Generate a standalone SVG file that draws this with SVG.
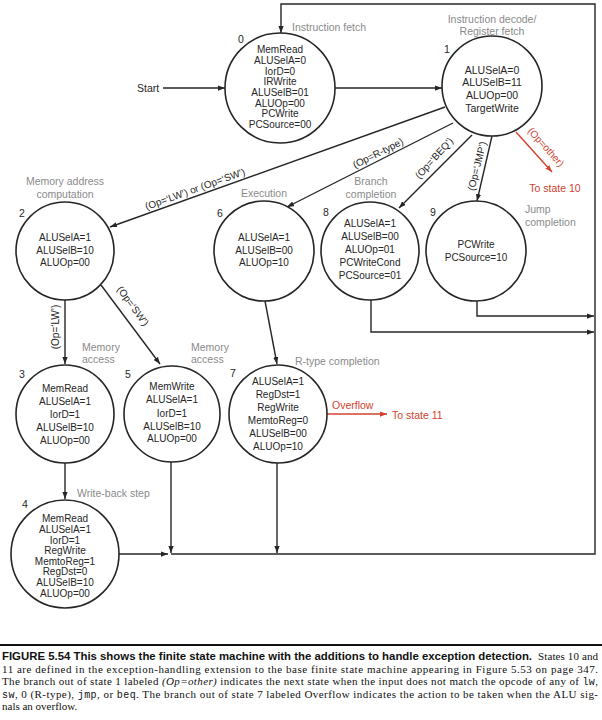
<svg xmlns="http://www.w3.org/2000/svg" width="602" height="720" viewBox="0 0 602 720">
<defs>
<marker id="ah" viewBox="0 0 8 6" refX="8" refY="3" markerWidth="7" markerHeight="5.5" orient="auto" markerUnits="userSpaceOnUse"><path d="M0,0 L8,3 L0,6 z" fill="#262626"/></marker>
<marker id="ahr" viewBox="0 0 8 6" refX="8" refY="3" markerWidth="7" markerHeight="5.5" orient="auto" markerUnits="userSpaceOnUse"><path d="M0,0 L8,3 L0,6 z" fill="#d2422f"/></marker>
</defs>
<style>
.st{fill:#fff;stroke:#262626;stroke-width:1.6}
.t{font-family:"Liberation Sans",Arial,sans-serif;font-size:10px;fill:#262626;text-anchor:middle}
.t1{font-size:10.5px}
.n{font-family:"Liberation Sans",Arial,sans-serif;font-size:10.5px;fill:#262626;text-anchor:middle}
.g{font-family:"Liberation Sans",Arial,sans-serif;font-size:10.5px;fill:#8a8a8a}
.gm{text-anchor:middle}
.lb{font-family:"Liberation Sans",Arial,sans-serif;font-size:10px;fill:#262626;text-anchor:middle}
.red{font-family:"Liberation Sans",Arial,sans-serif;font-size:10.5px;fill:#d2422f}
.c{fill:none;stroke:#262626;stroke-width:1.4}
.cr{fill:none;stroke:#d2422f;stroke-width:1.4}
.cap{font-family:"Liberation Serif","Times New Roman",serif;font-size:11px;fill:#111}
.capb{font-family:"Liberation Sans",Arial,sans-serif;font-size:10px;font-weight:bold;fill:#111}
.mono{font-family:"Liberation Mono","Courier New",monospace;font-size:10px}
</style>

<g id="connectors">
<path class="c" d="M163 88 H225" marker-end="url(#ah)"/>
<path class="c" d="M335 88 H442" marker-end="url(#ah)"/>
<path class="c" d="M171 554 H595 V4 H281 V33" marker-end="url(#ah)"/>
<path class="c" d="M119 554 H168" marker-end="url(#ah)"/>
<path class="c" d="M171 462 V553" marker-end="url(#ah)"/>
<path class="c" d="M277 463 V553" marker-end="url(#ah)"/>
<path class="c" d="M445 107 L110 227" marker-end="url(#ah)"/>
<path class="c" d="M453 123 L287 207" marker-end="url(#ah)"/>
<path class="c" d="M472 135 L399 208" marker-end="url(#ah)"/>
<path class="c" d="M492 136 L477 201" marker-end="url(#ah)"/>
<path class="cr" d="M516 132 L552 172" marker-end="url(#ahr)"/>
<path class="c" d="M65 300 V364" marker-end="url(#ah)"/>
<path class="c" d="M101 285 L160 364" marker-end="url(#ah)"/>
<path class="c" d="M265 301 L277 364" marker-end="url(#ah)"/>
<path class="c" d="M65 463 V499" marker-end="url(#ah)"/>
<path class="c" d="M371 300 V332 H594" marker-end="url(#ah)"/>
<path class="c" d="M477 301 V316 H594" marker-end="url(#ah)"/>
<path class="cr" d="M327 414 H387" marker-end="url(#ahr)"/>
<text class="n" x="137" y="92" text-anchor="start" style="text-anchor:start">Start</text>
<text class="lb" transform="translate(195,189) rotate(-19.7)" y="3.5">(Op=‘LW’) or (Op=‘SW’)</text>
<text class="lb" transform="translate(378,153) rotate(-26.8)" y="3.5">(Op=R-type)</text>
<text class="lb" transform="translate(434,158) rotate(-48)" y="3.5">(Op=‘BEQ’)</text>
<text class="lb" transform="translate(477,166) rotate(-76)" y="3.5">(Op=‘JMP’)</text>
<text class="lb" transform="translate(546,147) rotate(48)" y="3.5" style="fill:#d2422f">(Op=other)</text>
<text class="red" x="555" y="192" text-anchor="middle">To state 10</text>
<text class="lb" transform="translate(55,327) rotate(-90)" y="3.5">(Op=‘LW’)</text>
<text class="lb" transform="translate(133,306) rotate(53.7)" y="3.5">(Op=‘SW’)</text>
<text class="red" x="332" y="409">Overflow</text>
<text class="red" x="392" y="419">To state 11</text>
</g>

<g id="state0">
<circle class="st" cx="280" cy="88" r="55"/>
<text class="n" x="241" y="43">0</text>
<text class="g" x="292" y="31">Instruction fetch</text>
<text class="t" x="280" y="52.5">MemRead</text>
<text class="t" x="280" y="63.5">ALUSelA=0</text>
<text class="t" x="280" y="74.5">IorD=0</text>
<text class="t" x="280" y="84.5">IRWrite</text>
<text class="t" x="280" y="95.5">ALUSelB=01</text>
<text class="t" x="280" y="106.5">ALUOp=00</text>
<text class="t" x="280" y="116.5">PCWrite</text>
<text class="t" x="280" y="127.5">PCSource=00</text>
</g>

<g id="state1">
<circle class="st" cx="492" cy="86" r="50"/>
<text class="n" x="447" y="53">1</text>
<text class="g gm" x="492" y="23">Instruction decode/</text>
<text class="g gm" x="492" y="35">Register fetch</text>
<text class="t t1" x="492" y="74">ALUSelA=0</text>
<text class="t t1" x="492" y="86">ALUSelB=11</text>
<text class="t t1" x="492" y="99">ALUOp=00</text>
<text class="t t1" x="492" y="112">TargetWrite</text>
</g>

<g id="state2">
<circle class="st" cx="65" cy="251" r="49"/>
<text class="n" x="22" y="217">2</text>
<text class="g gm" x="65" y="185">Memory address</text>
<text class="g gm" x="65" y="198">computation</text>
<text class="t" x="65" y="240.5">ALUSelA=1</text>
<text class="t" x="65" y="253.5">ALUSelB=10</text>
<text class="t" x="65" y="265.5">ALUOp=00</text>
</g>

<g id="state6">
<circle class="st" cx="264" cy="251" r="50"/>
<text class="n" x="220" y="217">6</text>
<text class="g gm" x="264" y="197">Execution</text>
<text class="t" x="264" y="240.5">ALUSelA=1</text>
<text class="t" x="264" y="253.5">ALUSelB=00</text>
<text class="t" x="264" y="265.5">ALUOp=10</text>
</g>

<g id="state8">
<circle class="st" cx="370" cy="251" r="49"/>
<text class="n" x="326" y="216">8</text>
<text class="g gm" x="371" y="185">Branch</text>
<text class="g gm" x="371" y="198">completion</text>
<text class="t" x="370" y="226.5">ALUSelA=1</text>
<text class="t" x="370" y="239.5">ALUSelB=00</text>
<text class="t" x="370" y="252.5">ALUOp=01</text>
<text class="t" x="370" y="265.5">PCWriteCond</text>
<text class="t" x="370" y="278.5">PCSource=01</text>
</g>

<g id="state9">
<circle class="st" cx="476" cy="251" r="50"/>
<text class="n" x="433" y="216">9</text>
<text class="g" x="525" y="213">Jump</text>
<text class="g" x="525" y="226">completion</text>
<text class="t" x="476" y="247.5">PCWrite</text>
<text class="t" x="476" y="260.5">PCSource=10</text>
</g>

<g id="state3">
<circle class="st" cx="65" cy="414" r="49"/>
<text class="n" x="22" y="378">3</text>
<text class="g" x="82" y="351">Memory</text>
<text class="g" x="82" y="363">access</text>
<text class="t" x="65" y="391.5">MemRead</text>
<text class="t" x="65" y="404.5">ALUSelA=1</text>
<text class="t" x="65" y="417.5">IorD=1</text>
<text class="t" x="65" y="430.5">ALUSelB=10</text>
<text class="t" x="65" y="443.5">ALUOp=00</text>
</g>

<g id="state5">
<circle class="st" cx="172" cy="414" r="48"/>
<text class="n" x="128" y="378">5</text>
<text class="g" x="191" y="351">Memory</text>
<text class="g" x="191" y="363">access</text>
<text class="t" x="172" y="389.5">MemWrite</text>
<text class="t" x="172" y="402.5">ALUSelA=1</text>
<text class="t" x="172" y="416.5">IorD=1</text>
<text class="t" x="172" y="429.5">ALUSelB=10</text>
<text class="t" x="172" y="441.5">ALUOp=00</text>
</g>

<g id="state7">
<circle class="st" cx="278" cy="414" r="49"/>
<text class="n" x="233" y="377">7</text>
<text class="g" x="295" y="365">R-type completion</text>
<text class="t" x="278" y="384.5">ALUSelA=1</text>
<text class="t" x="278" y="397.5">RegDst=1</text>
<text class="t" x="278" y="410.5">RegWrite</text>
<text class="t" x="278" y="423.5">MemtoReg=0</text>
<text class="t" x="278" y="436.5">ALUSelB=00</text>
<text class="t" x="278" y="449.5">ALUOp=10</text>
</g>

<g id="state4">
<circle class="st" cx="65" cy="554" r="54"/>
<text class="n" x="25" y="508">4</text>
<text class="g" x="77" y="497">Write-back step</text>
<text class="t" x="65" y="521.5">MemRead</text>
<text class="t" x="65" y="532.5">ALUSelA=1</text>
<text class="t" x="65" y="543.5">IorD=1</text>
<text class="t" x="65" y="553.5">RegWrite</text>
<text class="t" x="65" y="564.5">MemtoReg=1</text>
<text class="t" x="65" y="574.5">RegDst=0</text>
<text class="t" x="65" y="585.5">ALUSelB=10</text>
<text class="t" x="65" y="596.5">ALUOp=00</text>
</g>

<g id="caption">
<line x1="0" y1="645" x2="602" y2="645" stroke="#111" stroke-width="2"/>
<text class="capb" x="2" y="660" textLength="530" lengthAdjust="spacingAndGlyphs">FIGURE 5.54 This shows the finite state machine with the additions to handle exception detection.</text>
<text class="cap" x="538" y="660" textLength="60" lengthAdjust="spacing">States 10 and</text>
<text class="cap" x="2" y="672.5" textLength="596" lengthAdjust="spacing">11 are defined in the exception-handling extension to the base finite state machine appearing in Figure 5.53 on page 347.</text>
<text class="cap" x="2" y="685" textLength="596" lengthAdjust="spacing">The branch out of state 1 labeled <tspan font-style="italic">(Op=other)</tspan> indicates the next state when the input does not match the opcode of any of <tspan class="mono">lw</tspan>,</text>
<text class="cap" x="2" y="697.5" textLength="596" lengthAdjust="spacing"><tspan class="mono">sw</tspan>, 0 (R-type), <tspan class="mono">jmp</tspan>, or <tspan class="mono">beq</tspan>. The branch out of state 7 labeled Overflow indicates the action to be taken when the ALU sig-</text>
<text class="cap" x="2" y="710">nals an overflow.</text>
</g>
</svg>
